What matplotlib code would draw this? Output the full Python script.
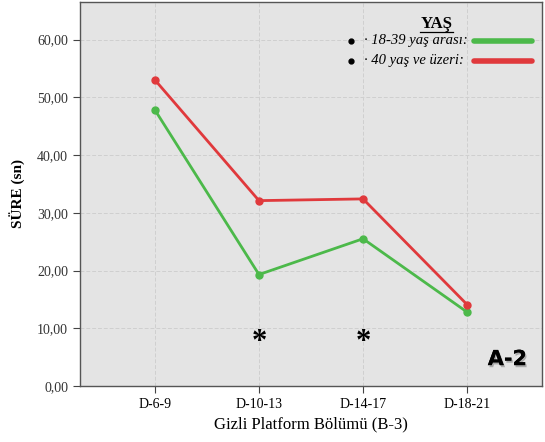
import matplotlib
matplotlib.use("Agg")
import matplotlib.pyplot as plt
import matplotlib.patheffects as pe

# Gizli platform bolumu suresi, yas gruplarina gore
bolumler = ["D-6-9", "D-10-13", "D-14-17", "D-18-21"]
genc = [47.8, 19.3, 25.5, 12.8]       # 18-39 yas arasi
yasli = [53.0, 32.1, 32.4, 14.1]      # 40 yas ve uzeri
anlamli = [1, 2]                      # * isaretli bolumler
yticks = [0, 10, 20, 30, 40, 50, 60]

YESIL = "#4cb94a"
KIRMIZI = "#e0393c"

plt.rcParams["font.family"] = ["Liberation Serif", "DejaVu Serif"]

fig = plt.figure(figsize=(5.45, 4.42), dpi=100)
ax = fig.add_axes([0.1468, 0.1267, 0.8477, 0.8688])
ax.set_facecolor("#e4e4e4")

x = list(range(len(bolumler)))
ax.plot(x, genc, color=YESIL, lw=2, marker="o", ms=5, zorder=3)
ax.plot(x, yasli, color=KIRMIZI, lw=2, marker="o", ms=5, zorder=3)

for i in anlamli:
    ax.text(i, 7.6, "*", ha="center", va="center", fontsize=22,
            fontweight="bold", color="black")

ax.set_xlim(-0.72, len(bolumler) - 1 + 0.72)
ax.set_ylim(0, 66.5)
ax.set_xticks(x)
ax.set_xticklabels(bolumler, fontsize=10)
ax.set_yticks(yticks)
ax.set_yticklabels([f"{v:.2f}".replace(".", ",") for v in yticks], fontsize=10, color="#333333")
ax.tick_params(length=5, width=0.8, color="#444444")
ax.grid(True, color="#cfcfcf", lw=0.7, ls=(0, (4, 2)))
ax.set_axisbelow(True)
for s in ax.spines.values():
    s.set_color("#555555")
    s.set_linewidth(1.0)

ax.set_xlabel("Gizli Platform Bölümü (B-3)", fontsize=12, labelpad=4)
ax.set_ylabel("SÜRE (sn)", fontsize=11, fontweight="bold", labelpad=8)

# elle cizilen lejant
ax.text(0.772, 0.943, "YAŞ", transform=ax.transAxes, ha="center", va="center",
        fontsize=12, fontweight="bold")
ax.plot([0.737, 0.807], [0.922, 0.922], transform=ax.transAxes, color="black", lw=0.9)
etiketler = ["· 18-39 yaş arası:", "· 40 yaş ve üzeri:"]
renkler = [YESIL, KIRMIZI]
for k, (et, rk) in enumerate(zip(etiketler, renkler)):
    yy = 0.899 - k * 0.052
    ax.plot(0.587, yy, "o", color="black", ms=3.5, transform=ax.transAxes)
    ax.text(0.615, yy, et, transform=ax.transAxes, ha="left", va="center",
            fontsize=10.5, style="italic")
    ax.plot([0.853, 0.978], [yy, yy], transform=ax.transAxes, color=rk, lw=4,
            solid_capstyle="round")

ax.text(0.925, 0.07, "A-2", transform=ax.transAxes, ha="center", va="center",
        fontsize=15, fontweight="bold", family="DejaVu Sans",
        path_effects=[pe.withSimplePatchShadow(offset=(1, -1.5), shadow_rgbFace="black", alpha=0.25),
                      pe.Normal()])

fig.savefig("out.png", dpi=100)
